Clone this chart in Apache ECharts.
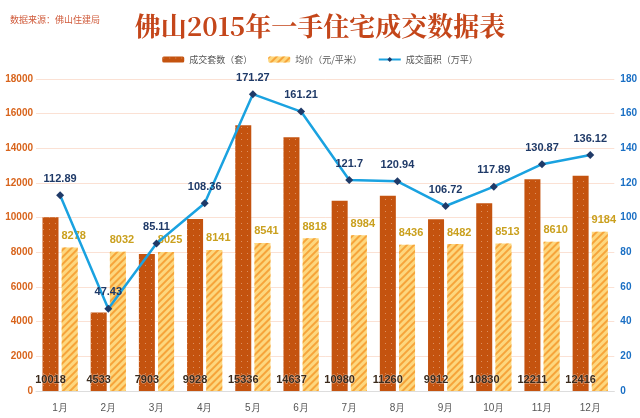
<!DOCTYPE html>
<html><head><meta charset="utf-8">
<script src="https://cdn.jsdelivr.net/npm/echarts@6/dist/echarts.min.js"></script>
<style>html,body{margin:0;padding:0;background:#fff}#c{width:640px;height:418px}</style>
</head><body><div id="c"></div>
<script>
var months = ['1月','2月','3月','4月','5月','6月','7月','8月','9月','10月','11月','12月'];
var dealCount = [10018, 4533, 7903, 9928, 15336, 14637, 10980, 11260, 9912, 10830, 12211, 12416];
var avgPrice = [8278, 8032, 8025, 8141, 8541, 8818, 8984, 8436, 8482, 8513, 8610, 9184];
var dealArea = [112.89, 47.43, 85.11, 108.36, 171.27, 161.21, 121.7, 120.94, 106.72, 117.89, 130.87, 136.12];
var leftTicks = [0, 18000, 2000];
var rightTicks = [0, 180, 20];

var chart = echarts.init(document.getElementById('c'));
chart.setOption({
  backgroundColor: '#fff',
  animation: false,
  title: [{
    text: '佛山2015年一手住宅成交数据表', left: 'center', top: 8,
    textStyle: {fontFamily: 'Noto Serif CJK SC, serif', fontSize: 26, fontWeight: 'bold', color: '#c4461a'}
  }, {
    text: '数据来源：佛山住建局', left: 5, top: 10,
    textStyle: {fontSize: 9, fontWeight: 'normal', color: '#d05a3a', fontFamily: 'Noto Sans CJK SC'}
  }],
  legend: {
    top: 50, left: 'center', itemWidth: 22, itemHeight: 6, itemGap: 16,
    textStyle: {fontSize: 9, color: '#555', fontFamily: 'Noto Sans CJK SC'},
    data: ['成交套数（套）', '均价（元/平米）', '成交面积（万平）']
  },
  grid: {left: 36, right: 24, top: 79, bottom: 27},
  xAxis: {
    type: 'category', data: months,
    axisLine: {lineStyle: {color: '#ddd'}}, axisTick: {show: false},
    axisLabel: {color: '#555', fontSize: 10, margin: 12}
  },
  yAxis: [{
    type: 'value', min: leftTicks[0], max: leftTicks[1], interval: leftTicks[2],
    axisLabel: {color: '#d8641c', fontWeight: 'bold', fontSize: 10, margin: 3, formatter: function (v) { return String(v); }},
    splitLine: {lineStyle: {color: '#fbe1d4'}}, axisLine: {show: false}, axisTick: {show: false}
  }, {
    type: 'value', min: rightTicks[0], max: rightTicks[1], interval: rightTicks[2],
    axisLabel: {color: '#1a6fc4', fontWeight: 'bold', fontSize: 10, margin: 6},
    splitLine: {show: false}, axisLine: {show: false}, axisTick: {show: false}
  }],
  series: [{
    name: '成交套数（套）', type: 'bar', data: dealCount, barWidth: 16, barGap: '20%',
    itemStyle: {color: '#c4530f', decal: {symbol: 'circle', symbolSize: 0.35, dashArrayX: [[3, 3]], dashArrayY: [3, 3], color: 'rgba(255,230,210,0.55)', rotation: 0}},
    label: {show: true, position: 'insideBottom', distance: 6, color: '#3a2a1c', fontWeight: 'bold', fontSize: 11, textBorderColor: 'rgba(255,255,255,0.5)', textBorderWidth: 1}
  }, {
    name: '均价（元/平米）', type: 'bar', data: avgPrice, barWidth: 16,
    itemStyle: {color: '#fdd77e', decal: {symbol: 'rect', symbolSize: 1, dashArrayX: [1, 0], dashArrayY: [2, 3], rotation: -Math.PI / 4, color: '#f6a43a'}},
    label: {show: true, position: 'top', distance: 6, color: '#caa01e', fontWeight: 'bold', fontSize: 11, offset: [4, 0]}
  }, {
    name: '成交面积（万平）', type: 'line', yAxisIndex: 1, data: dealArea,
    lineStyle: {color: '#1aa2e0', width: 2.5}, itemStyle: {color: '#1f3a68'},
    symbol: 'diamond', symbolSize: 8, z: 5,
    label: {show: true, position: 'top', distance: 7, color: '#1f3a68', fontWeight: 'bold', fontSize: 11}
  }]
});
</script></body></html>
